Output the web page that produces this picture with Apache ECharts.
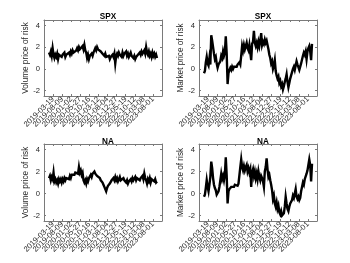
<!DOCTYPE html>
<html><head><meta charset="utf-8">
<script src="https://cdn.jsdelivr.net/npm/echarts@6/dist/echarts.min.js"></script>
<style>html,body{margin:0;padding:0;background:#fff}#c{width:350px;height:263px}</style>
</head><body><div id="c"></div>
<script>
// x tick labels (trading-day index -> date)
const tickLabels = ['2019-03-19','2019-08-09','2020-01-02','2020-05-27','2020-10-16','2021-03-12','2021-08-04','2021-12-27','2022-05-19','2022-10-12','2023-03-08','2023-08-01'];
const tickDays = [100,200,300,400,500,600,700,800,900,1000,1100,1200];
const axisDayMin = 0, axisDayMax = 1300;
const firstDay = 55, dayStep = 10;
const yTicks = [-2, 0, 2, 4];

const spxVolume = [1.5,1.3,1.6,1.2,1.9,1.3,1.0,1.3,1.1,1.4,0.9,1.3,1.2,1.4,1.1,1.3,1.2,1.5,1.1,1.3,
1.4,1.2,1.5,1.3,1.6,1.4,1.7,1.5,1.6,1.4,1.7,1.9,1.7,2.0,1.8,1.9,1.7,2.1,1.8,2.2,
1.7,1.5,1.0,1.3,0.9,1.2,1.1,1.4,1.2,1.5,1.7,1.9,1.7,2.0,1.8,1.7,1.9,1.6,1.7,1.4,
1.5,1.2,1.4,1.1,1.2,1.0,1.2,0.9,1.1,1.0,1.3,1.1,1.4,0.5,1.2,1.4,1.2,1.5,1.3,1.4,
1.1,1.5,1.2,1.4,1.3,1.6,1.2,1.4,1.1,1.3,1.5,1.2,1.3,1.0,1.2,0.9,1.1,1.0,1.3,1.2,
1.5,1.3,1.6,1.4,1.5,1.7,1.4,2.0,1.5,1.3,1.6,1.2,1.4,1.1,1.5,1.2,1.4,1.1,1.3,1.0];

const spxMarket = [-0.4,-0.2,0.6,1.1,0.5,0.3,1.0,0.4,3.1,2.6,2.0,1.4,0.9,1.1,0.5,0.1,0.4,0.3,0.7,1.2,
1.0,1.6,1.2,1.5,3.0,1.4,-1.4,-0.4,-0.1,0.1,-0.1,0.2,0.0,0.2,0.1,0.3,0.2,0.4,0.3,0.6,
0.4,1.2,2.1,1.7,2.2,1.8,2.1,2.4,1.9,1.7,2.2,2.3,0.8,2.3,2.5,3.5,2.4,2.1,2.4,2.0,
2.5,2.1,2.6,3.3,2.2,2.5,2.3,2.7,2.4,2.6,2.2,1.8,1.3,1.0,0.5,0.7,0.0,0.3,0.8,-0.2,
-0.6,-0.9,-0.7,-1.3,-1.1,-1.6,-1.4,-1.9,-1.6,-1.2,-0.9,-0.5,-1.2,-1.7,-1.3,-0.9,-0.6,-0.3,0.0,0.2,
-0.1,0.3,0.7,0.4,0.3,-0.1,0.2,0.5,0.4,1.2,1.5,1.3,1.6,0.9,1.6,1.9,2.1,1.6,0.8,2.3];

const naVolume = [1.4,1.6,1.2,1.5,1.3,1.9,1.1,1.3,1.0,1.2,0.9,1.3,1.1,1.3,1.0,1.3,1.1,1.4,1.2,1.4,
1.3,1.5,1.3,1.6,1.4,1.7,1.6,1.8,1.7,1.9,1.8,2.0,1.8,2.4,1.9,2.1,1.7,1.9,1.2,1.0,
1.2,0.9,1.3,1.1,1.4,1.5,1.7,1.5,1.8,1.7,2.0,1.8,1.9,1.6,1.7,1.5,1.4,1.2,1.3,1.0,
0.8,0.6,0.4,0.2,0.5,0.7,0.6,0.9,1.0,1.2,1.1,1.4,1.2,1.5,1.2,1.4,1.1,1.3,1.5,1.2,
1.3,1.1,1.4,1.2,1.3,1.0,1.2,0.9,1.1,1.0,1.3,1.1,1.4,1.2,1.3,1.5,1.2,1.4,1.3,1.5,
1.2,1.4,1.3,1.6,1.3,1.8,1.4,1.2,0.9,1.3,1.1,1.4,1.0,1.3,1.2,1.4,1.1,1.3,1.0,1.1];

const naMarket = [-0.3,-0.1,0.5,1.2,0.6,0.2,0.8,1.5,2.9,2.3,1.4,0.8,0.5,0.3,-0.1,-0.2,0.2,0.6,1.2,1.8,
1.3,1.6,1.2,1.7,3.3,1.6,-0.9,0.2,0.4,0.5,0.6,0.5,0.7,0.6,0.8,0.7,0.8,0.7,0.9,0.8,
2.4,3.1,2.4,2.1,2.5,2.1,2.4,2.6,2.0,2.3,1.9,2.2,0.6,1.9,2.2,1.6,2.0,1.4,1.8,1.3,
2.0,1.5,1.2,1.6,1.4,1.1,0.6,2.0,2.4,3.2,2.2,1.5,1.7,1.2,0.8,0.3,-0.5,-0.2,-0.9,-1.2,
-0.8,-1.4,-1.1,-1.7,-1.9,-1.6,-2.0,-2.1,-1.8,-1.2,-0.3,-0.9,-1.4,-1.6,-1.2,-0.9,-1.0,-0.6,-0.2,-0.4,
0.0,0.4,-0.3,-0.5,-0.3,-0.6,-0.4,0.2,0.6,1.0,0.8,1.3,1.4,1.8,2.1,2.6,3.1,2.6,1.1,2.7];

const panelTitles = ['SPX', 'SPX', 'NA', 'NA'];
const panelYNames = ['Volume price of risk', 'Market price of risk', 'Volume price of risk', 'Market price of risk'];
const panelSeries = [spxVolume, spxMarket, naVolume, naMarket];

const grids = [
  {left: 44, top: 20, width: 118, height: 76},
  {left: 199, top: 20, width: 118, height: 76},
  {left: 44, top: 144, width: 118, height: 77},
  {left: 199, top: 144, width: 118, height: 77}
];
const titleTops = [8, 133];

const FONT = '"Liberation Sans", Arial, Helvetica, sans-serif';
const AX = '#7a7a7a';
const TXT = '#262626';
// empty guard labels at the axis ends keep every dated label visible
const labelValues = [axisDayMin].concat(tickDays, [axisDayMax]);

const xAxes = [], yAxes = [], series = [], titles = [];
grids.forEach((g, k) => {
  const lineStyle = {color: AX, width: 1};
  xAxes.push({
    gridIndex: k, type: 'value', min: axisDayMin, max: axisDayMax, interval: 100,
    axisLine: {show: true, onZero: false, lineStyle},
    axisTick: {show: true, inside: true, length: 2, lineStyle, customValues: tickDays},
    axisLabel: {show: true, rotate: 45, margin: 2, fontSize: 7.7, color: TXT, fontFamily: FONT,
      customValues: labelValues, hideOverlap: false,
      formatter: v => { const i = tickDays.indexOf(v); return i >= 0 ? tickLabels[i] : ''; }},
    splitLine: {show: false}
  });
  xAxes.push({
    gridIndex: k, type: 'value', position: 'top', min: axisDayMin, max: axisDayMax, interval: 100,
    axisLine: {show: true, onZero: false, lineStyle},
    axisTick: {show: true, inside: true, length: 2, lineStyle, customValues: tickDays},
    axisLabel: {show: false}, splitLine: {show: false}
  });
  yAxes.push({
    gridIndex: k, type: 'value', min: -2.5, max: 4.5,
    name: panelYNames[k], nameLocation: 'middle', nameGap: 11,
    nameTextStyle: {fontSize: 8.2, color: TXT, fontFamily: FONT},
    axisLine: {show: true, onZero: false, lineStyle},
    axisTick: {show: true, inside: true, length: 2, lineStyle, customValues: yTicks},
    axisLabel: {show: true, margin: 4, fontSize: 7.6, color: TXT, fontFamily: FONT,
      customValues: yTicks, showMinLabel: true, showMaxLabel: true},
    splitLine: {show: false}
  });
  yAxes.push({
    gridIndex: k, type: 'value', position: 'right', min: -2.5, max: 4.5,
    axisLine: {show: true, onZero: false, lineStyle},
    axisTick: {show: true, inside: true, length: 2, lineStyle, customValues: yTicks},
    axisLabel: {show: false}, splitLine: {show: false}
  });
  series.push({
    type: 'line', xAxisIndex: 2 * k, yAxisIndex: 2 * k,
    data: panelSeries[k].map((v, i) => [firstDay + i * dayStep, v]),
    showSymbol: false, symbol: 'none',
    lineStyle: {color: '#000', width: 2.4, join: 'miter'},
    animation: false
  });
  titles.push({
    text: panelTitles[k], left: g.left + g.width / 2, top: titleTops[Math.floor(k / 2)],
    textAlign: 'center',
    textStyle: {fontSize: 8.2, fontWeight: 'bold', color: '#000', fontFamily: FONT}
  });
});

const chart = echarts.init(document.getElementById('c'), null, {renderer: 'canvas'});
chart.setOption({
  animation: false,
  backgroundColor: '#fff',
  title: titles,
  grid: grids,
  xAxis: xAxes,
  yAxis: yAxes,
  series: series
});
</script></body></html>
